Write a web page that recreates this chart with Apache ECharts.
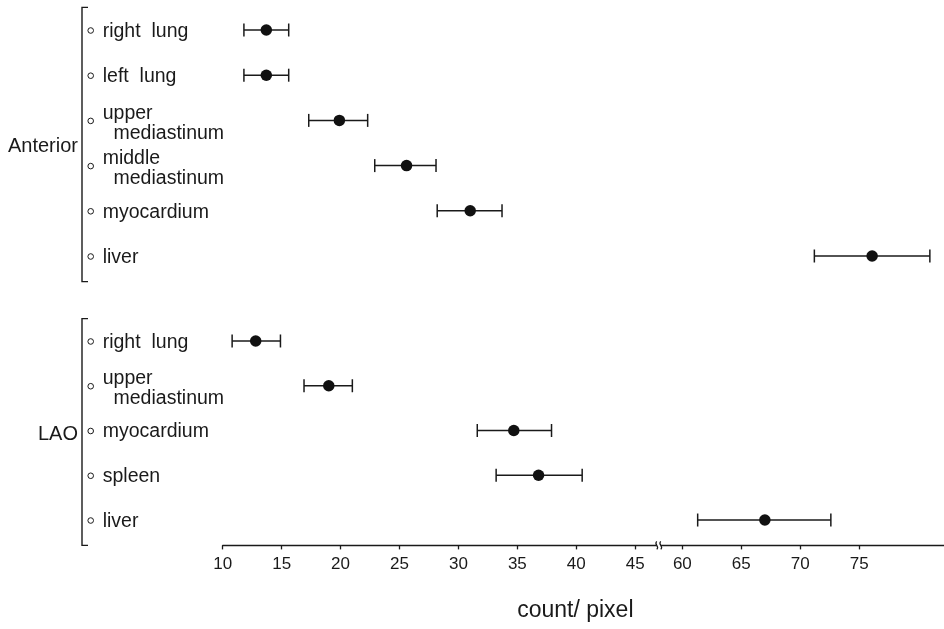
<!DOCTYPE html>
<html>
<head>
<meta charset="utf-8">
<script src="https://cdn.jsdelivr.net/npm/echarts@6/dist/echarts.min.js"></script>
<style>html,body{margin:0;padding:0;background:#fff}#c{width:944px;height:629px}</style>
</head>
<body>
<div id="c"></div>
<script>
// ---- data ----
const groupNames = ['Anterior', 'LAO'];
const anteriorOrgans = ['right  lung', 'left  lung', 'upper\n  mediastinum', 'middle\n  mediastinum', 'myocardium', 'liver'];
const anteriorMean = [13.7, 13.7, 19.9, 25.6, 31.0, 76.1];
const anteriorLow  = [11.8, 11.8, 17.3, 22.9, 28.2, 71.2];
const anteriorHigh = [15.6, 15.6, 22.3, 28.1, 33.7, 81.0];
const laoOrgans = ['right  lung', 'upper\n  mediastinum', 'myocardium', 'spleen', 'liver'];
const laoMean = [12.8, 19.0, 34.7, 36.8, 67.0];
const laoLow  = [10.8, 16.9, 31.6, 33.2, 61.3];
const laoHigh = [14.9, 21.0, 37.9, 40.5, 72.6];
const tickValues = [10, 15, 20, 25, 30, 35, 40, 45, 60, 65, 70, 75];
const axisBreak = [47, 58];          // broken x-axis: 47 ... 58 removed
const axisRange = [10, 82.2];
const axisTitle = 'count/ pixel';

// ---- broken-axis mapping ----
const GAP = axisBreak[1] - axisBreak[0];
const comp = v => (v <= axisBreak[0] ? v : v - GAP);
const uncomp = c => (c <= axisBreak[0] + 0.5 ? c : c + GAP);

const groups = [
  { name: groupNames[0], organs: anteriorOrgans, mean: anteriorMean, low: anteriorLow, high: anteriorHigh },
  { name: groupNames[1], organs: laoOrgans, mean: laoMean, low: laoLow, high: laoHigh }
];

const FONT = "'Liberation Sans', Arial, Helvetica, sans-serif";
const INK = '#1a1a1a';
const GRID_LEFT = 222.7;
const gridBoxes = [
  { top: 7.4, height: 271.2 },
  { top: 318.6, height: 223.8 }
];

const grids = [], xAxes = [], yAxes = [], series = [];
groups.forEach((g, gi) => {
  const last = gi === groups.length - 1;
  grids.push({ left: GRID_LEFT, right: 0, top: gridBoxes[gi].top, height: gridBoxes[gi].height, containLabel: false, outerBoundsMode: 'none' });
  xAxes.push({
    gridIndex: gi,
    type: 'value',
    min: comp(axisRange[0]),
    max: comp(axisRange[1]),
    show: last,
    offset: 3,
    axisLine: { show: true, lineStyle: { color: INK, width: 1.4 } },
    axisTick: { show: true, length: 4, customValues: tickValues.map(comp), lineStyle: { color: INK, width: 1.3 } },
    axisLabel: {
      customValues: tickValues.map(comp),
      formatter: v => String(Math.round(uncomp(v))),
      fontSize: 17, fontFamily: FONT, color: INK, margin: 10
    },
    splitLine: { show: false },
    name: last ? axisTitle : '',
    nameLocation: 'middle',
    nameGap: 54,
    nameTextStyle: { fontSize: 23, fontFamily: FONT, color: INK, padding: [0, 16, 0, 0] }
  });
  yAxes.push({
    gridIndex: gi,
    type: 'category',
    inverse: true,
    data: g.organs,
    axisLine: { show: false },
    axisTick: { show: false },
    splitLine: { show: false },
    axisLabel: { show: false }
  });

  const bars = g.organs.map((o, i) => [comp(g.low[i]), comp(g.high[i]), i]);
  const dots = g.organs.map((o, i) => [comp(g.mean[i]), i]);
  const marks = g.organs.map((o, i) => [axisRange[0], i, o]);

  series.push({
    type: 'custom', name: g.name + ' range', xAxisIndex: gi, yAxisIndex: gi,
    data: bars, encode: { x: [0, 1], y: 2 }, clip: false,
    renderItem: (params, api) => {
      const p1 = api.coord([api.value(0), api.value(2)]);
      const p2 = api.coord([api.value(1), api.value(2)]);
      const h = 6.5;
      const st = { stroke: INK, lineWidth: 1.5 };
      return {
        type: 'group',
        children: [
          { type: 'line', shape: { x1: p1[0], y1: p1[1], x2: p2[0], y2: p2[1] }, style: st },
          { type: 'line', shape: { x1: p1[0], y1: p1[1] - h, x2: p1[0], y2: p1[1] + h }, style: st },
          { type: 'line', shape: { x1: p2[0], y1: p2[1] - h, x2: p2[0], y2: p2[1] + h }, style: st }
        ]
      };
    }
  });
  series.push({
    type: 'scatter', name: g.name + ' mean', xAxisIndex: gi, yAxisIndex: gi,
    data: dots, symbol: 'circle', symbolSize: 11.5,
    itemStyle: { color: '#111', opacity: 1 }, z: 5
  });
  series.push({
    type: 'custom', name: g.name + ' rows', xAxisIndex: gi, yAxisIndex: gi,
    data: marks, encode: { x: 0, y: 1 }, clip: false,
    renderItem: (params, api) => {
      const i = params.dataIndex;
      const p = api.coord([api.value(0), i]);
      const label = g.organs[i];
      const multi = label.indexOf('\n') >= 0;
      return {
        type: 'group',
        children: [
          {
            type: 'circle',
            shape: { cx: params.coordSys.x - 132, cy: p[1] + 0.5, r: 2.8 },
            style: { fill: '#fff', stroke: INK, lineWidth: 1 }
          },
          {
            type: 'text',
            style: {
              x: params.coordSys.x - 120, y: p[1] + (multi ? 3 : 1.5),
              text: label, align: 'left', verticalAlign: 'middle',
              fontSize: 19.5, lineHeight: 20, fontFamily: FONT, fill: INK
            }
          }
        ]
      };
    }
  });
  series.push({
    type: 'custom', name: g.name + ' bracket', xAxisIndex: gi, yAxisIndex: gi,
    data: [[axisRange[0], 0]], clip: false,
    renderItem: (params, api) => {
      const cs = params.coordSys;
      const x = cs.x - 140.7;
      const y1 = cs.y, y2 = cs.y + cs.height + 3;
      return {
        type: 'group',
        children: [
          {
            type: 'polyline',
            shape: { points: [[x + 6, y1], [x, y1], [x, y2], [x + 6, y2]] },
            style: { stroke: INK, lineWidth: 1.4, fill: null }
          },
          {
            type: 'text',
            style: {
              x: x - 4, y: (y1 + y2) / 2 + 2,
              text: g.name, align: 'right', verticalAlign: 'middle',
              fontSize: 20, fontFamily: FONT, fill: INK
            }
          }
        ]
      };
    }
  });
  if (last) {
    series.push({
      type: 'custom', name: 'axis break', xAxisIndex: gi, yAxisIndex: gi,
      data: [[axisBreak[0], 0]], clip: false, z: 10,
      renderItem: (params, api) => {
        const x = api.coord([api.value(0), api.value(1)])[0];
        const y = params.coordSys.y + params.coordSys.height + 3;
        const sq = (x0) => ({
          type: 'bezierCurve',
          shape: { x1: x0, y1: y + 4, x2: x0, y2: y - 4, cpx1: x0 + 3.5, cpy1: y + 1, cpx2: x0 - 3.5, cpy2: y - 1 },
          style: { stroke: INK, lineWidth: 1.2, fill: null }
        });
        return {
          type: 'group',
          children: [
            { type: 'rect', shape: { x: x - 2, y: y - 2, width: 4, height: 4 }, style: { fill: '#fff' } },
            sq(x - 2), sq(x + 2)
          ]
        };
      }
    });
  }
});

const chart = echarts.init(document.getElementById('c'), null, { renderer: 'canvas' });
chart.setOption({
  backgroundColor: '#ffffff',
  animation: false,
  grid: grids,
  xAxis: xAxes,
  yAxis: yAxes,
  series: series
});
</script>
</body>
</html>
